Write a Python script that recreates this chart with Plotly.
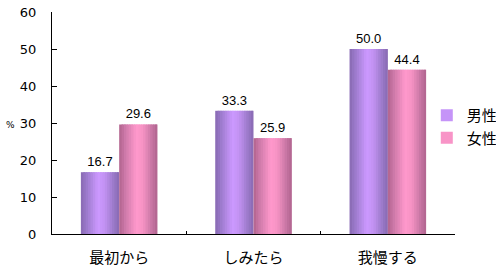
import plotly.graph_objects as go

categories = ["最初から", "しみたら", "我慢する"]
series_names = ["男性", "女性"]
male_values = [16.7, 33.3, 50.0]
female_values = [29.6, 25.9, 44.4]
y_ticks = [0, 10, 20, 30, 40, 50, 60]

# horizontal gradient stops (cylinder look) per series
grad = {
    "男性": [(0.0, (0x88, 0x6a, 0xb2)), (0.15, (0x9c, 0x7a, 0xcc)), (0.45, (0xcc, 0x99, 0xff)),
             (0.62, (0xc2, 0x92, 0xf2)), (0.85, (0x9c, 0x7a, 0xca)), (1.0, (0x88, 0x6a, 0xb2))],
    "女性": [(0.0, (0xb0, 0x64, 0x8e)), (0.15, (0xcc, 0x78, 0xa8)), (0.45, (0xff, 0x99, 0xcc)),
             (0.62, (0xf6, 0x93, 0xc4)), (0.85, (0xc8, 0x76, 0xa4)), (1.0, (0xb0, 0x64, 0x8e))],
}


def color_at(stops, t):
    for (t0, c0), (t1, c1) in zip(stops[:-1], stops[1:]):
        if t0 <= t <= t1:
            f = (t - t0) / (t1 - t0)
            return "rgb(%d,%d,%d)" % tuple(round(a + (b - a) * f) for a, b in zip(c0, c1))
    return "rgb(%d,%d,%d)" % stops[-1][1]


W = 0.285
offsets = {"男性": -W, "女性": 0.0}
values = {"男性": male_values, "女性": female_values}
N = 16

fig = go.Figure()
for name in series_names:
    stops = grad[name]
    step = W / N
    for i in range(N):
        t = (i + 0.5) / N
        fig.add_trace(go.Bar(
            x=categories, y=values[name], name=name, legendgroup=name,
            showlegend=(i == 6), width=min(step * 1.8, W - i * step),
            offset=offsets[name] + i * step,
            marker=dict(color=color_at(stops, t), line=dict(width=0)),
            hoverinfo="skip",
        ))
    fig.add_trace(go.Bar(
        x=categories, y=values[name], name=name, legendgroup=name, showlegend=False,
        width=W, offset=offsets[name],
        marker=dict(color="rgba(0,0,0,0)", line=dict(width=0)),
        text=[f"{v:.1f}" for v in values[name]], textposition="outside",
        textfont=dict(family="Liberation Sans, Arial, sans-serif", size=13, color="black"),
        cliponaxis=False, hoverinfo="skip",
    ))

fig.update_layout(
    width=496, height=272,
    margin=dict(l=52, r=41, t=12, b=38, autoexpand=False),
    barmode="overlay",
    plot_bgcolor="white", paper_bgcolor="white",
    font=dict(family="Noto Sans CJK JP, sans-serif", color="black"),
    legend=dict(x=0.93, y=0.608, xanchor="left", yanchor="top",
                font=dict(family="Noto Sans CJK JP", size=15, color="black"),
                bgcolor="rgba(0,0,0,0)", itemwidth=30, tracegroupgap=0),
    xaxis=dict(type="category", range=[-0.5, 2.5], showline=True, linecolor="black", linewidth=1,
               ticks="inside", ticklen=3, tickcolor="black", tickson="boundaries",
               tickfont=dict(family="Noto Sans CJK JP", size=15, color="black"),
               ticklabelstandoff=10, showgrid=False, zeroline=False, automargin=False),
    yaxis=dict(range=[0, 60], tickvals=y_ticks, showline=True, linecolor="black", linewidth=1,
               ticks="inside", ticklen=5, tickcolor="black",
               tickfont=dict(family="DejaVu Sans", size=13, color="black"),
               ticklabelstandoff=12, showgrid=False, zeroline=False, automargin=False),
    annotations=[dict(text="%", xref="paper", yref="paper", x=-0.118, y=0.49, xanchor="left",
                      showarrow=False, font=dict(family="DejaVu Sans", size=9, color="black"))],
)

fig.write_html("out.html")
